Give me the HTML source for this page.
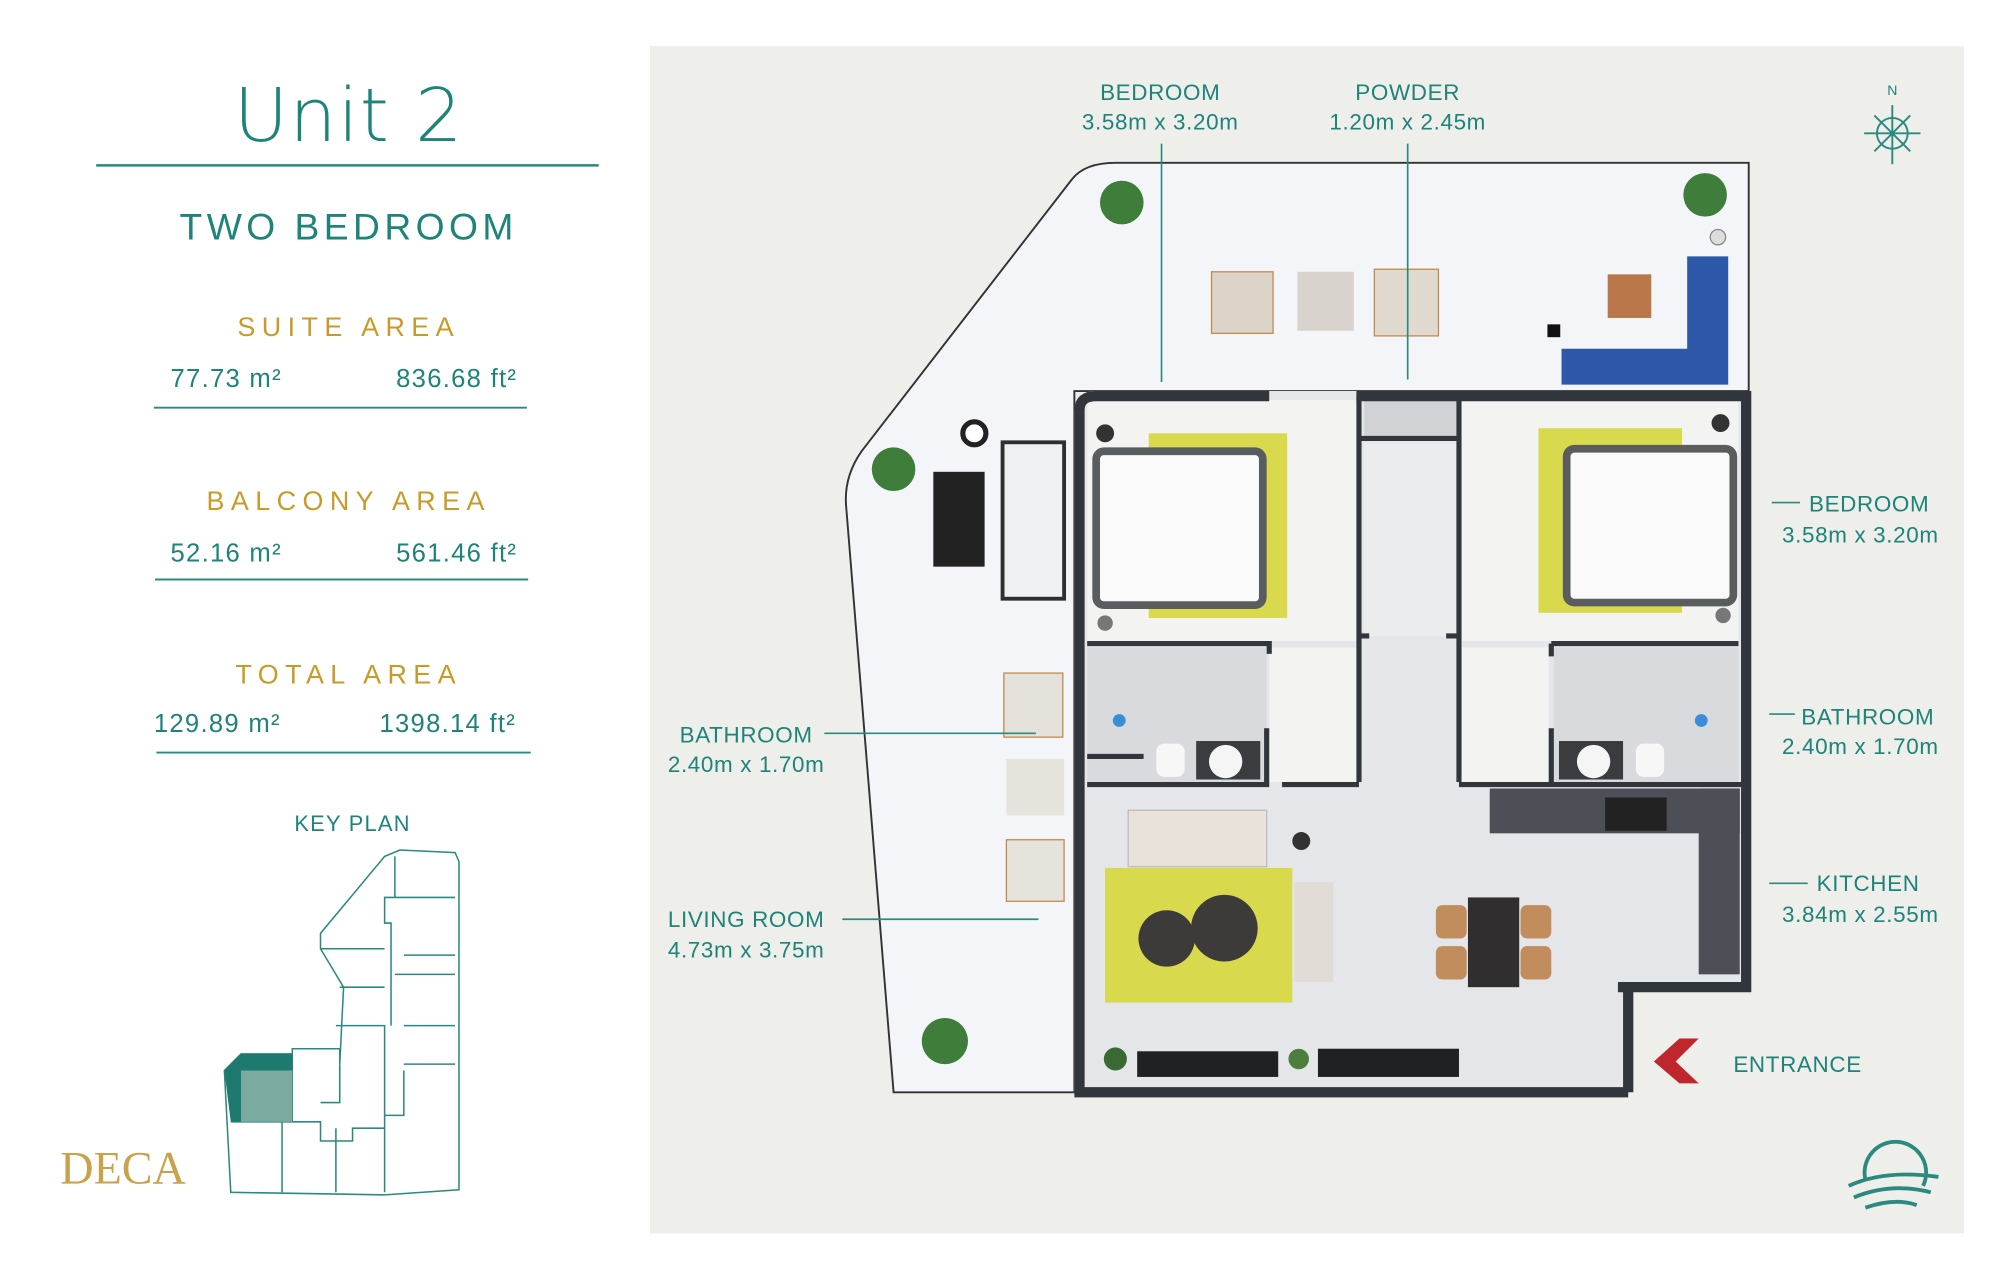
<!DOCTYPE html>
<html><head><meta charset="utf-8"><style>
html,body{margin:0;padding:0;background:#fff;}
svg{display:block}
text{font-family:"Liberation Sans",sans-serif}
</style></head><body>
<svg width="2000" height="1273" viewBox="0 0 2000 1273" xmlns="http://www.w3.org/2000/svg">
<g transform="scale(1.28205)">
<!-- left panel -->
<text x="272" y="110" text-anchor="middle" font-size="58" fill="#1e8378" style="font-family:'DejaVu Sans','Liberation Sans',sans-serif;font-weight:200" letter-spacing="1">Unit 2</text>
<line x1="75" y1="129" x2="467" y2="129" stroke="#2a8a7e" stroke-width="2"/>
<text x="272" y="187" text-anchor="middle" font-size="29" fill="#1e8378" letter-spacing="3.5">TWO BEDROOM</text>
<g fill="#c99a28" font-size="21" text-anchor="middle" letter-spacing="5">
<text x="272" y="262">SUITE AREA</text>
<text x="272" y="398">BALCONY AREA</text>
<text x="272" y="533">TOTAL AREA</text>
</g>
<g fill="#1e8378" font-size="20" letter-spacing="1">
<text x="133" y="302">77.73 m²</text><text x="309" y="302">836.68 ft²</text>
<text x="133" y="438">52.16 m²</text><text x="309" y="438">561.46 ft²</text>
<text x="120" y="571">129.89 m²</text><text x="296" y="571">1398.14 ft²</text>
</g>
<g stroke="#2a8a7e" stroke-width="1.5">
<line x1="120" y1="318" x2="411" y2="318"/>
<line x1="121" y1="452" x2="412" y2="452"/>
<line x1="122" y1="587" x2="414" y2="587"/>
</g>
<text x="275" y="648" text-anchor="middle" font-size="17" fill="#1e8378" letter-spacing="1">KEY PLAN</text>
<!-- key plan -->
<g fill="none" stroke="#2a8a7e" stroke-width="1.2">
<path d="M180,930 L175,835 L188,822 L228,822 L228,818 L265,818 L265,830 L268,770 L250,740 L250,728 L300,668 L312,663 L355,665 L358,672 L358,928 L300,932 L180,930 Z"/>
<path d="M228,822 L228,875 M180,875 L228,875 M228,875 L250,875 L250,890 L275,890 L275,880 L300,880 L300,870 L315,870 L315,835 M265,830 L265,860 L250,860 M262,800 L300,800 L300,930 M220,875 L220,930 M262,880 L262,930 M308,668 L308,700 L300,700 L300,720 L305,720 L305,800 M308,700 L355,700 M315,745 L355,745 M308,760 L355,760 M315,800 L355,800 M315,830 L355,830 M250,740 L300,740 M265,770 L300,770"/>
</g>
<path d="M175,835 L188,822 L228,822 L228,875 L180,875 Z" fill="#1e7a6e"/>
<rect x="188" y="835" width="40" height="40" fill="#7aaaa0"/>
<text x="47" y="923" font-size="36" fill="#c9a24a" style="font-family:'Liberation Serif',serif">DECA</text>
<!-- right panel -->
<rect x="507" y="36" width="1025" height="926" fill="#eeeeeb"/>
<!-- balcony -->
<path d="M697,852 L660,395 Q658,372 672,352 L836,140 Q846,127 870,127 L1364,127 L1364,305 L838,305 L838,852 Z" fill="#f3f5f8" stroke="#333" stroke-width="1.5"/>
<!-- interior -->
<path d="M838,320 Q838,305 855,305 L1366,305 L1366,770 L1270,770 L1270,852 L838,852 Z" fill="#e4e6ea"/>
<rect x="848" y="312" width="210" height="188" fill="#f3f3f2"/>
<rect x="1140" y="312" width="216" height="188" fill="#f3f3f2"/>
<rect x="848" y="505" width="140" height="105" fill="#d8dade"/>
<rect x="1212" y="505" width="144" height="105" fill="#d8dade"/>
<rect x="990" y="505" width="68" height="105" fill="#f3f3f2"/>
<rect x="1140" y="505" width="68" height="105" fill="#f3f3f2"/>
<rect x="1064" y="312" width="72" height="30" fill="#d0d2d6"/>
<rect x="1064" y="346" width="72" height="150" fill="#ebecee"/>
<rect x="1162" y="615" width="195" height="35" fill="#4c5056"/>
<rect x="1325" y="615" width="32" height="145" fill="#4c5056"/>
<g fill="none" stroke="#30363c" stroke-width="8">
<path d="M1270,852 L842,852 L842,320 Q842,309 855,309 L990,309 M1058,309 L1362,309 L1362,770 L1262,770 M1270,766 L1270,852"/>
</g>
<g fill="none" stroke="#30363c" stroke-width="4">
<path d="M1060,309 L1060,610 M1138,309 L1138,610 M1060,342 L1136,342 M1062,496 L1068,496 M1128,496 L1136,496"/>
<path d="M848,502 L990,502 L990,510 M988,568 L988,612 L848,612 M848,590 L892,590"/>
<path d="M1060,612 L1000,612 M1138,612 L1208,612 M1210,502 L1356,502 M1210,502 L1210,512 M1210,568 L1210,612 L1358,612"/>
</g>
<!-- rugs and beds -->
<rect x="896" y="338" width="108" height="144" fill="#d8d94c"/>
<rect x="1200" y="334" width="112" height="144" fill="#d8d94c"/>
<rect x="855" y="352" width="130" height="120" rx="6" fill="#fafafa" stroke="#5a5d60" stroke-width="6"/>
<rect x="1222" y="350" width="130" height="120" rx="6" fill="#fafafa" stroke="#5a5d60" stroke-width="6"/>
<circle cx="862" cy="338" r="7" fill="#333"/><circle cx="862" cy="486" r="6" fill="#777"/>
<circle cx="1342" cy="330" r="7" fill="#333"/><circle cx="1344" cy="480" r="6" fill="#777"/>
<!-- bathrooms -->
<circle cx="873" cy="562" r="5" fill="#3a8ed8"/><circle cx="1327" cy="562" r="5" fill="#3a8ed8"/>
<rect x="902" y="580" width="22" height="26" rx="6" fill="#f7f7f7"/>
<rect x="933" y="578" width="50" height="30" fill="#3a3c40"/><circle cx="956" cy="594" r="13" fill="#f5f5f5"/>
<rect x="1216" y="578" width="50" height="30" fill="#3a3c40"/><circle cx="1243" cy="594" r="13" fill="#f5f5f5"/>
<rect x="1276" y="580" width="22" height="26" rx="6" fill="#f7f7f7"/>
<!-- living -->
<rect x="862" y="677" width="146" height="105" fill="#d8d94c"/>
<rect x="880" y="632" width="108" height="44" fill="#e8e2d9" stroke="#bbb"/>
<rect x="1010" y="688" width="30" height="78" fill="#e0dcd5"/>
<circle cx="910" cy="732" r="22" fill="#3c3b3a"/><circle cx="955" cy="724" r="26" fill="#3c3b3a"/>
<circle cx="1015" cy="656" r="7" fill="#333"/>
<rect x="1145" y="700" width="40" height="70" fill="#302e2e"/>
<rect x="1120" y="706" width="24" height="26" rx="5" fill="#c28d5c"/><rect x="1120" y="738" width="24" height="26" rx="5" fill="#c28d5c"/>
<rect x="1186" y="706" width="24" height="26" rx="5" fill="#c28d5c"/><rect x="1186" y="738" width="24" height="26" rx="5" fill="#c28d5c"/>
<rect x="1252" y="622" width="48" height="26" fill="#222"/>
<rect x="887" y="820" width="110" height="20" fill="#1f2124"/>
<rect x="1028" y="818" width="110" height="22" fill="#1f2124"/>
<circle cx="870" cy="826" r="9" fill="#3a6a34"/><circle cx="1013" cy="826" r="8" fill="#4d7e3e"/>
<!-- balcony furniture -->
<rect x="945" y="212" width="48" height="48" fill="#dcd4c8" stroke="#c08a4c"/>
<rect x="1012" y="212" width="44" height="46" fill="#d8d3cc"/>
<rect x="1072" y="210" width="50" height="52" fill="#e0d9d0" stroke="#c08a4c"/>
<rect x="1254" y="214" width="34" height="34" fill="#b9774a"/>
<rect x="1207" y="253" width="10" height="10" fill="#111"/>
<path d="M1316,200 L1348,200 L1348,300 L1218,300 L1218,272 L1316,272 Z" fill="#2d57a8"/>
<rect x="782" y="345" width="48" height="122" fill="#eef0f1" stroke="#2f2f2f" stroke-width="3"/>
<rect x="728" y="368" width="40" height="74" fill="#222"/>
<circle cx="760" cy="338" r="9" fill="#fff" stroke="#222" stroke-width="4"/>
<rect x="783" y="525" width="46" height="50" fill="#e4e0da" stroke="#c08a4c"/>
<rect x="785" y="592" width="45" height="44" fill="#e6e2dc"/>
<rect x="785" y="655" width="45" height="48" fill="#e6e2dc" stroke="#c08a4c"/>
<g fill="#3f7d3a">
<circle cx="875" cy="158" r="17"/><circle cx="1330" cy="152" r="17"/><circle cx="697" cy="366" r="17"/><circle cx="737" cy="812" r="18"/>
</g>
<circle cx="1340" cy="185" r="6" fill="#ddd" stroke="#888"/>
<!-- labels -->
<g fill="#1e8378" font-size="17.5" text-anchor="middle" letter-spacing="0.5">
<text x="905" y="78">BEDROOM</text><text x="905" y="101">3.58m x 3.20m</text>
<text x="1098" y="78">POWDER</text><text x="1098" y="101">1.20m x 2.45m</text>
<text x="582" y="579">BATHROOM</text><text x="582" y="602">2.40m x 1.70m</text>
<text x="582" y="723">LIVING ROOM</text><text x="582" y="747">4.73m x 3.75m</text>
</g>
<g fill="#1e8378" font-size="17.5" letter-spacing="0.5">
<text x="1411" y="399">BEDROOM</text><text x="1390" y="423">3.58m x 3.20m</text>
<text x="1405" y="565">BATHROOM</text><text x="1390" y="588">2.40m x 1.70m</text>
<text x="1417" y="695">KITCHEN</text><text x="1390" y="719">3.84m x 2.55m</text>
<text x="1352" y="836">ENTRANCE</text>
</g>
<g stroke="#2a8a7e" stroke-width="1.3">
<line x1="906" y1="112" x2="906" y2="298"/><line x1="1098" y1="112" x2="1098" y2="296"/>
<line x1="643" y1="572" x2="808" y2="572"/><line x1="657" y1="717" x2="810" y2="717"/>
<line x1="1382" y1="392" x2="1404" y2="392"/><line x1="1380" y1="557" x2="1400" y2="557"/><line x1="1380" y1="689" x2="1410" y2="689"/>
</g>
<path d="M1325,810 L1310,810 L1290,828 L1310,845 L1325,845 L1307,828 Z" fill="#c0272d"/>
<!-- compass -->
<text x="1476" y="74" text-anchor="middle" font-size="11" fill="#1e8378">N</text>
<g stroke="#2a8a7e" stroke-width="1.5" fill="none">
<circle cx="1476" cy="104" r="12"/>
<path d="M1476,82 L1476,128 M1454,104 L1498,104 M1462,90 L1490,118 M1490,90 L1462,118"/>
</g>
<!-- logo -->
<g fill="none" stroke="#2a8a7e" stroke-width="3">
<path d="M1455,920 A24,24 0 1 1 1500,925"/>
<path d="M1442,925 Q1470,912 1512,918"/>
<path d="M1446,934 Q1475,922 1506,930"/>
<path d="M1455,942 Q1478,934 1495,940"/>
</g>
</g>
</svg>
</body></html>
